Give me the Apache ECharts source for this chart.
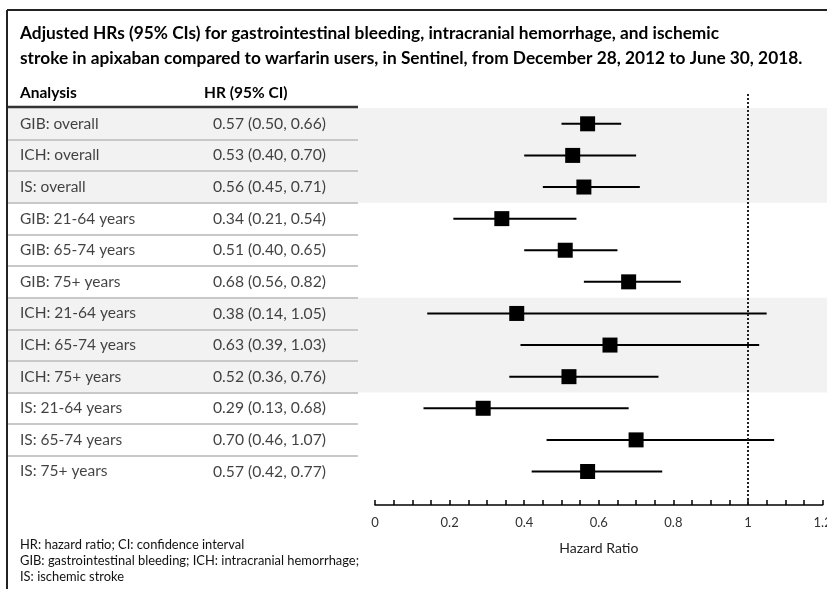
<!DOCTYPE html>
<html>
<head>
<meta charset="utf-8">
<script src="https://cdn.jsdelivr.net/npm/echarts@6/dist/echarts.min.js"></script>
<style>html,body{margin:0;padding:0;background:#fff;}#c{width:827px;height:589px;}</style>
</head>
<body>
<div id="c"></div>
<script>
const titleLines = [
  'Adjusted HRs (95% CIs) for gastrointestinal bleeding, intracranial hemorrhage, and ischemic',
  'stroke in apixaban compared to warfarin users, in Sentinel, from December 28, 2012 to June 30, 2018.'
];
const headers = ['Analysis', 'HR (95% CI)'];
const analyses = [
  'GIB: overall', 'ICH: overall', 'IS: overall',
  'GIB: 21-64 years', 'GIB: 65-74 years', 'GIB: 75+ years',
  'ICH: 21-64 years', 'ICH: 65-74 years', 'ICH: 75+ years',
  'IS: 21-64 years', 'IS: 65-74 years', 'IS: 75+ years'
];
const hr    = [0.57, 0.53, 0.56, 0.34, 0.51, 0.68, 0.38, 0.63, 0.52, 0.29, 0.70, 0.57];
const lower = [0.50, 0.40, 0.45, 0.21, 0.40, 0.56, 0.14, 0.39, 0.36, 0.13, 0.46, 0.42];
const upper = [0.66, 0.70, 0.71, 0.54, 0.65, 0.82, 1.05, 1.03, 0.76, 0.68, 1.07, 0.77];
const shadedRanges = [[0, 2], [6, 8]];
const footnotes = [
  'HR: hazard ratio; CI: confidence interval',
  'GIB: gastrointestinal bleeding; ICH: intracranial hemorrhage;',
  'IS: ischemic stroke'
];
const xTitle = 'Hazard Ratio';
const refLine = 1;

const FONT = 'Lato, "Open Sans", sans-serif';
const hrText = hr.map((v, i) => `${v.toFixed(2)} (${lower[i].toFixed(2)}, ${upper[i].toFixed(2)})`);

const chart = echarts.init(document.getElementById('c'), null, {renderer: 'canvas'});

const sepLines = [];
for (let i = 0; i < analyses.length - 1; i++) {
  sepLines.push([{coord: [0, i + 0.5]}, {coord: [350, i + 0.5]}]);
}

const graphics = [];
graphics.push({type: 'line', shape: {x1: 7, y1: 10, x2: 827, y2: 10}, style: {stroke: '#222', lineWidth: 2}, z: 10});
graphics.push({type: 'line', shape: {x1: 7, y1: 10, x2: 7, y2: 589}, style: {stroke: '#222', lineWidth: 2}, z: 10});
graphics.push({type: 'line', shape: {x1: 8, y1: 107, x2: 358, y2: 107}, style: {stroke: '#333', lineWidth: 2.5}, z: 10});
titleLines.forEach((t, k) => graphics.push({
  type: 'text', x: 20, y: 33 + k * 25.5,
  style: {text: t, font: 'bold 17.3px ' + FONT, fill: '#000', verticalAlign: 'middle'}
}));
graphics.push({type: 'text', x: 20, y: 93, style: {text: headers[0], font: 'bold 15.5px ' + FONT, fill: '#000', verticalAlign: 'middle'}});
graphics.push({type: 'text', x: 204, y: 93, style: {text: headers[1], font: 'bold 15.5px ' + FONT, fill: '#000', verticalAlign: 'middle'}});
footnotes.forEach((t, k) => graphics.push({
  type: 'text', x: 20, y: 545 + k * 16,
  style: {text: t, font: '12.9px ' + FONT, fill: '#111', verticalAlign: 'middle'}
}));

const option = {
  animation: false,
  backgroundColor: '#fff',
  grid: [
    {left: 8, right: 0, top: 108, bottom: 84, outerBoundsMode: 'none', containLabel: false},
    {left: 375, right: 4.4, top: 94, bottom: 84, outerBoundsMode: 'none', containLabel: false}
  ],
  xAxis: [
    {gridIndex: 0, type: 'value', min: 0, max: 819, show: false},
    {
      gridIndex: 1, type: 'value', min: 0, max: 1.2, interval: 0.2,
      splitLine: {show: false},
      axisLine: {show: true, onZero: false, lineStyle: {color: '#000', width: 1.5}},
      axisTick: {show: true, inside: true, length: 5, lineStyle: {color: '#000', width: 1.5}},
      minorTick: {show: true, splitNumber: 4, length: 5, lineStyle: {color: '#000', width: 1.5}},
      minorSplitLine: {show: false},
      axisLabel: {color: '#333', fontSize: 13, fontFamily: FONT, margin: 11, showMaxLabel: true, hideOverlap: false},
      name: xTitle, nameLocation: 'middle', nameGap: 36,
      nameTextStyle: {color: '#222', fontSize: 14, fontFamily: FONT}
    }
  ],
  yAxis: [
    {gridIndex: 0, type: 'value', min: -0.5, max: 12.06, inverse: true, show: false},
    {gridIndex: 1, type: 'value', min: -0.943, max: 12.06, inverse: true, show: false}
  ],
  series: [
    {
      type: 'scatter', xAxisIndex: 0, yAxisIndex: 0, symbolSize: 0, silent: true, z: 1,
      data: analyses.map((a, i) => ({value: [12, i], name: a})),
      label: {show: true, position: 'right', distance: 0, formatter: p => p.name,
        fontSize: 15.5, fontFamily: FONT, color: '#111'},
      markArea: {silent: true, itemStyle: {color: '#f2f2f2'},
        data: shadedRanges.map(r => [{yAxis: r[0] - 0.5}, {yAxis: r[1] + 0.5}])},
      markLine: {silent: true, symbol: 'none', label: {show: false},
        lineStyle: {color: '#c8c8c8', width: 2, type: 'solid'}, data: sepLines}
    },
    {
      type: 'scatter', xAxisIndex: 0, yAxisIndex: 0, symbolSize: 0, silent: true, z: 1,
      data: hrText.map((t, i) => ({value: [205, i], name: t})),
      label: {show: true, position: 'right', distance: 0, formatter: p => p.name,
        fontSize: 15.7, fontFamily: FONT, color: '#111'}
    },
    {
      type: 'custom', xAxisIndex: 1, yAxisIndex: 1, silent: true, z: 3,
      data: analyses.map((a, i) => [i, lower[i], upper[i]]),
      encode: {x: [1, 2], y: 0},
      renderItem: (params, api) => {
        const p1 = api.coord([api.value(1), api.value(0)]);
        const p2 = api.coord([api.value(2), api.value(0)]);
        return {type: 'line', shape: {x1: p1[0], y1: p1[1], x2: p2[0], y2: p2[1]},
          style: {stroke: '#000', lineWidth: 2}};
      }
    },
    {
      type: 'scatter', xAxisIndex: 1, yAxisIndex: 1, symbol: 'rect', symbolSize: 15, silent: true, z: 4,
      itemStyle: {color: '#000', opacity: 1},
      data: hr.map((v, i) => [v, i]),
      markLine: {silent: true, symbol: 'none', label: {show: false},
        lineStyle: {color: '#222', width: 2, type: [2, 2], opacity: 1},
        data: [{xAxis: refLine}]}
    }
  ],
  graphic: graphics
};
chart.setOption(option);
</script>
</body>
</html>
